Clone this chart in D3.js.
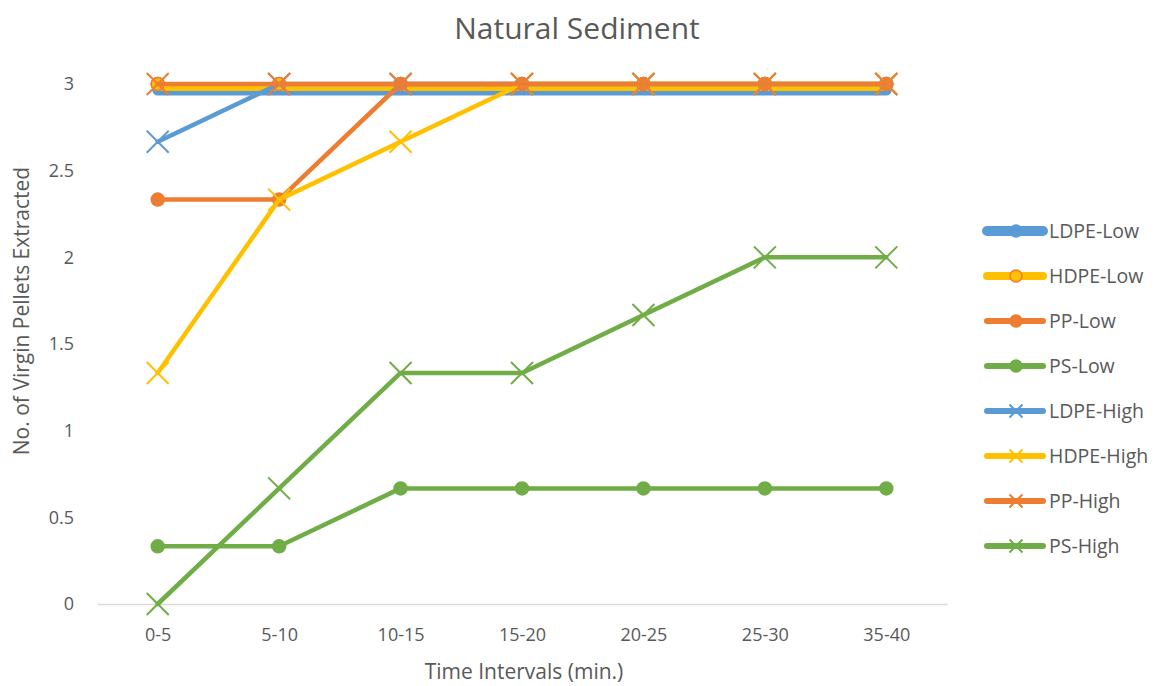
<!DOCTYPE html>
<html>
<head>
<meta charset="utf-8">
<script src="https://cdn.jsdelivr.net/npm/d3@7"></script>
<style>
    body { margin: 0; background: #fff; }
    text { font-family: "Open Sans", "Noto Sans", sans-serif; fill: #595959; }
</style>
</head>
<body>
<div id="chart-container"></div>
<script>
// line chart of pellets extracted per time interval
const svgWidth = 1158;
const svgHeight = 686;
const margin = { top: 84, right: 211, bottom: 82, left: 97 };
const width = svgWidth - margin.left - margin.right;
const height = svgHeight - margin.top - margin.bottom;

// data
const intervals = ["0-5", "5-10", "10-15", "15-20", "20-25", "25-30", "35-40"];
const yTicks = [0, 0.5, 1, 1.5, 2, 2.5, 3];

const ldpeLow = [3, 3, 3, 3, 3, 3, 3];
const hdpeLow = [3, 3, 3, 3, 3, 3, 3];
const ppLow = [2.333, 2.333, 3, 3, 3, 3, 3];
const psLow = [0.333, 0.333, 0.667, 0.667, 0.667, 0.667, 0.667];
const ldpeHigh = [2.667, 3, 3, 3, 3, 3, 3];
const hdpeHigh = [1.333, 2.333, 2.667, 3, 3, 3, 3];
const ppHigh = [3, 3, 3, 3, 3, 3, 3];
const psHigh = [0, 0.667, 1.333, 1.333, 1.667, 2, 2];

const seriesNames = ["LDPE-Low", "HDPE-Low", "PP-Low", "PS-Low", "LDPE-High", "HDPE-High", "PP-High", "PS-High"];
const seriesValues = [ldpeLow, hdpeLow, ppLow, psLow, ldpeHigh, hdpeHigh, ppHigh, psHigh];

// styles kept apart from the data
const blue = "#5B9BD5", orange = "#ED7D31", yellow = "#FFC000", green = "#70AD47";
const styles = [
    { color: blue, width: 11, marker: "circle", shift: 6, legendWidth: 10 },
    { color: yellow, width: 7, marker: "circle", stroke: orange, shift: 3.5, legendWidth: 8 },
    { color: orange, width: 4.5, marker: "circle", shift: 0, legendWidth: 6 },
    { color: green, width: 4.5, marker: "circle", shift: 0, legendWidth: 6 },
    { color: blue, width: 4.5, marker: "x", shift: 0, legendWidth: 6 },
    { color: yellow, width: 4.5, marker: "x", shift: 0, legendWidth: 6 },
    { color: orange, width: 4.5, marker: "x", shift: 0, legendWidth: 6 },
    { color: green, width: 4.5, marker: "x", shift: 0, legendWidth: 6 }
];

const svg = d3.select("#chart-container")
    .append("svg")
    .attr("width", svgWidth)
    .attr("height", svgHeight)
    .append("g")
    .attr("transform", `translate(${margin.left},${margin.top})`);

const x = d3.scalePoint()
    .domain(intervals)
    .range([0, width])
    .padding(0.5);

const y = d3.scaleLinear()
    .domain([0, 3])
    .range([height, 0]);

// x axis: just the light grey baseline and labels
const xAxis = svg.append("g")
    .attr("class", "axis axis-x")
    .attr("transform", `translate(0, ${height})`)
    .call(d3.axisBottom(x).tickSize(0).tickPadding(24));
xAxis.select(".domain").attr("stroke", "#d9d9d9").attr("stroke-width", 1.5);
xAxis.selectAll("text").attr("font-size", "18px").attr("fill", "#595959");

// y axis: labels only, no line
const yAxis = svg.append("g")
    .attr("class", "axis axis-y")
    .call(d3.axisLeft(y).tickValues(yTicks).tickSize(0).tickPadding(23).tickFormat(d3.format("")));
yAxis.select(".domain").remove();
yAxis.selectAll("text").attr("font-size", "18px").attr("fill", "#595959");

const line = d3.line()
    .x((d, i) => x(intervals[i]))
    .y(d => y(d));

// circle or x marker, size = radius / half width of the cross
function drawMarker(g, type, s, size) {
    if (type === "circle") {
        g.append("circle")
            .attr("r", size)
            .attr("fill", s.color)
            .attr("stroke", s.stroke || s.color)
            .attr("stroke-width", 1.5);
    } else {
        g.append("path")
            .attr("d", `M${-size},${-size}L${size},${size}M${-size},${size}L${size},${-size}`)
            .attr("stroke", s.color)
            .attr("stroke-width", 2)
            .attr("fill", "none");
    }
}

seriesValues.forEach(function (vals, k) {
    const s = styles[k];
    const g = svg.append("g").attr("class", "series");
    g.append("path")
        .datum(vals)
        .attr("d", line)
        .attr("transform", `translate(0, ${s.shift})`)
        .attr("fill", "none")
        .attr("stroke", s.color)
        .attr("stroke-width", s.width)
        .attr("stroke-linejoin", "round")
        .attr("stroke-linecap", "round");
    vals.forEach(function (v, i) {
        const m = g.append("g").attr("transform", `translate(${x(intervals[i])},${y(v)})`);
        drawMarker(m, s.marker, s, s.marker === "circle" ? 6.5 : 11);
    });
});

// legend on the right
const legend = svg.append("g")
    .attr("transform", `translate(${width + 40}, 147)`);
seriesNames.forEach(function (name, k) {
    const s = styles[k];
    const row = legend.append("g").attr("transform", `translate(0, ${k * 45})`);
    row.append("line")
        .attr("x1", 0).attr("x2", 56)
        .attr("stroke", s.color)
        .attr("stroke-width", s.legendWidth)
        .attr("stroke-linecap", "round");
    const m = row.append("g").attr("transform", "translate(29,0)");
    drawMarker(m, s.marker, s, s.marker === "circle" ? 6 : 6.5);
    row.append("text")
        .text(name)
        .attr("x", 62)
        .attr("dy", "0.35em")
        .attr("font-size", "19.5px");
});

// titles
svg.append("text")
    .text("Natural Sediment")
    .attr("x", svgWidth / 2 - margin.left - 2)
    .attr("y", -margin.top + 39)
    .attr("text-anchor", "middle")
    .attr("font-size", "30px");

svg.append("text")
    .text("Time Intervals (min.)")
    .attr("x", width / 2 + 2)
    .attr("y", height + 75)
    .attr("text-anchor", "middle")
    .attr("font-size", "21px");

svg.append("text")
    .text("No. of Virgin Pellets Extracted")
    .attr("transform", `translate(${-margin.left + 29}, ${height / 2 - 33}) rotate(-90)`)
    .attr("text-anchor", "middle")
    .attr("font-size", "21px");
</script>
</body>
</html>
